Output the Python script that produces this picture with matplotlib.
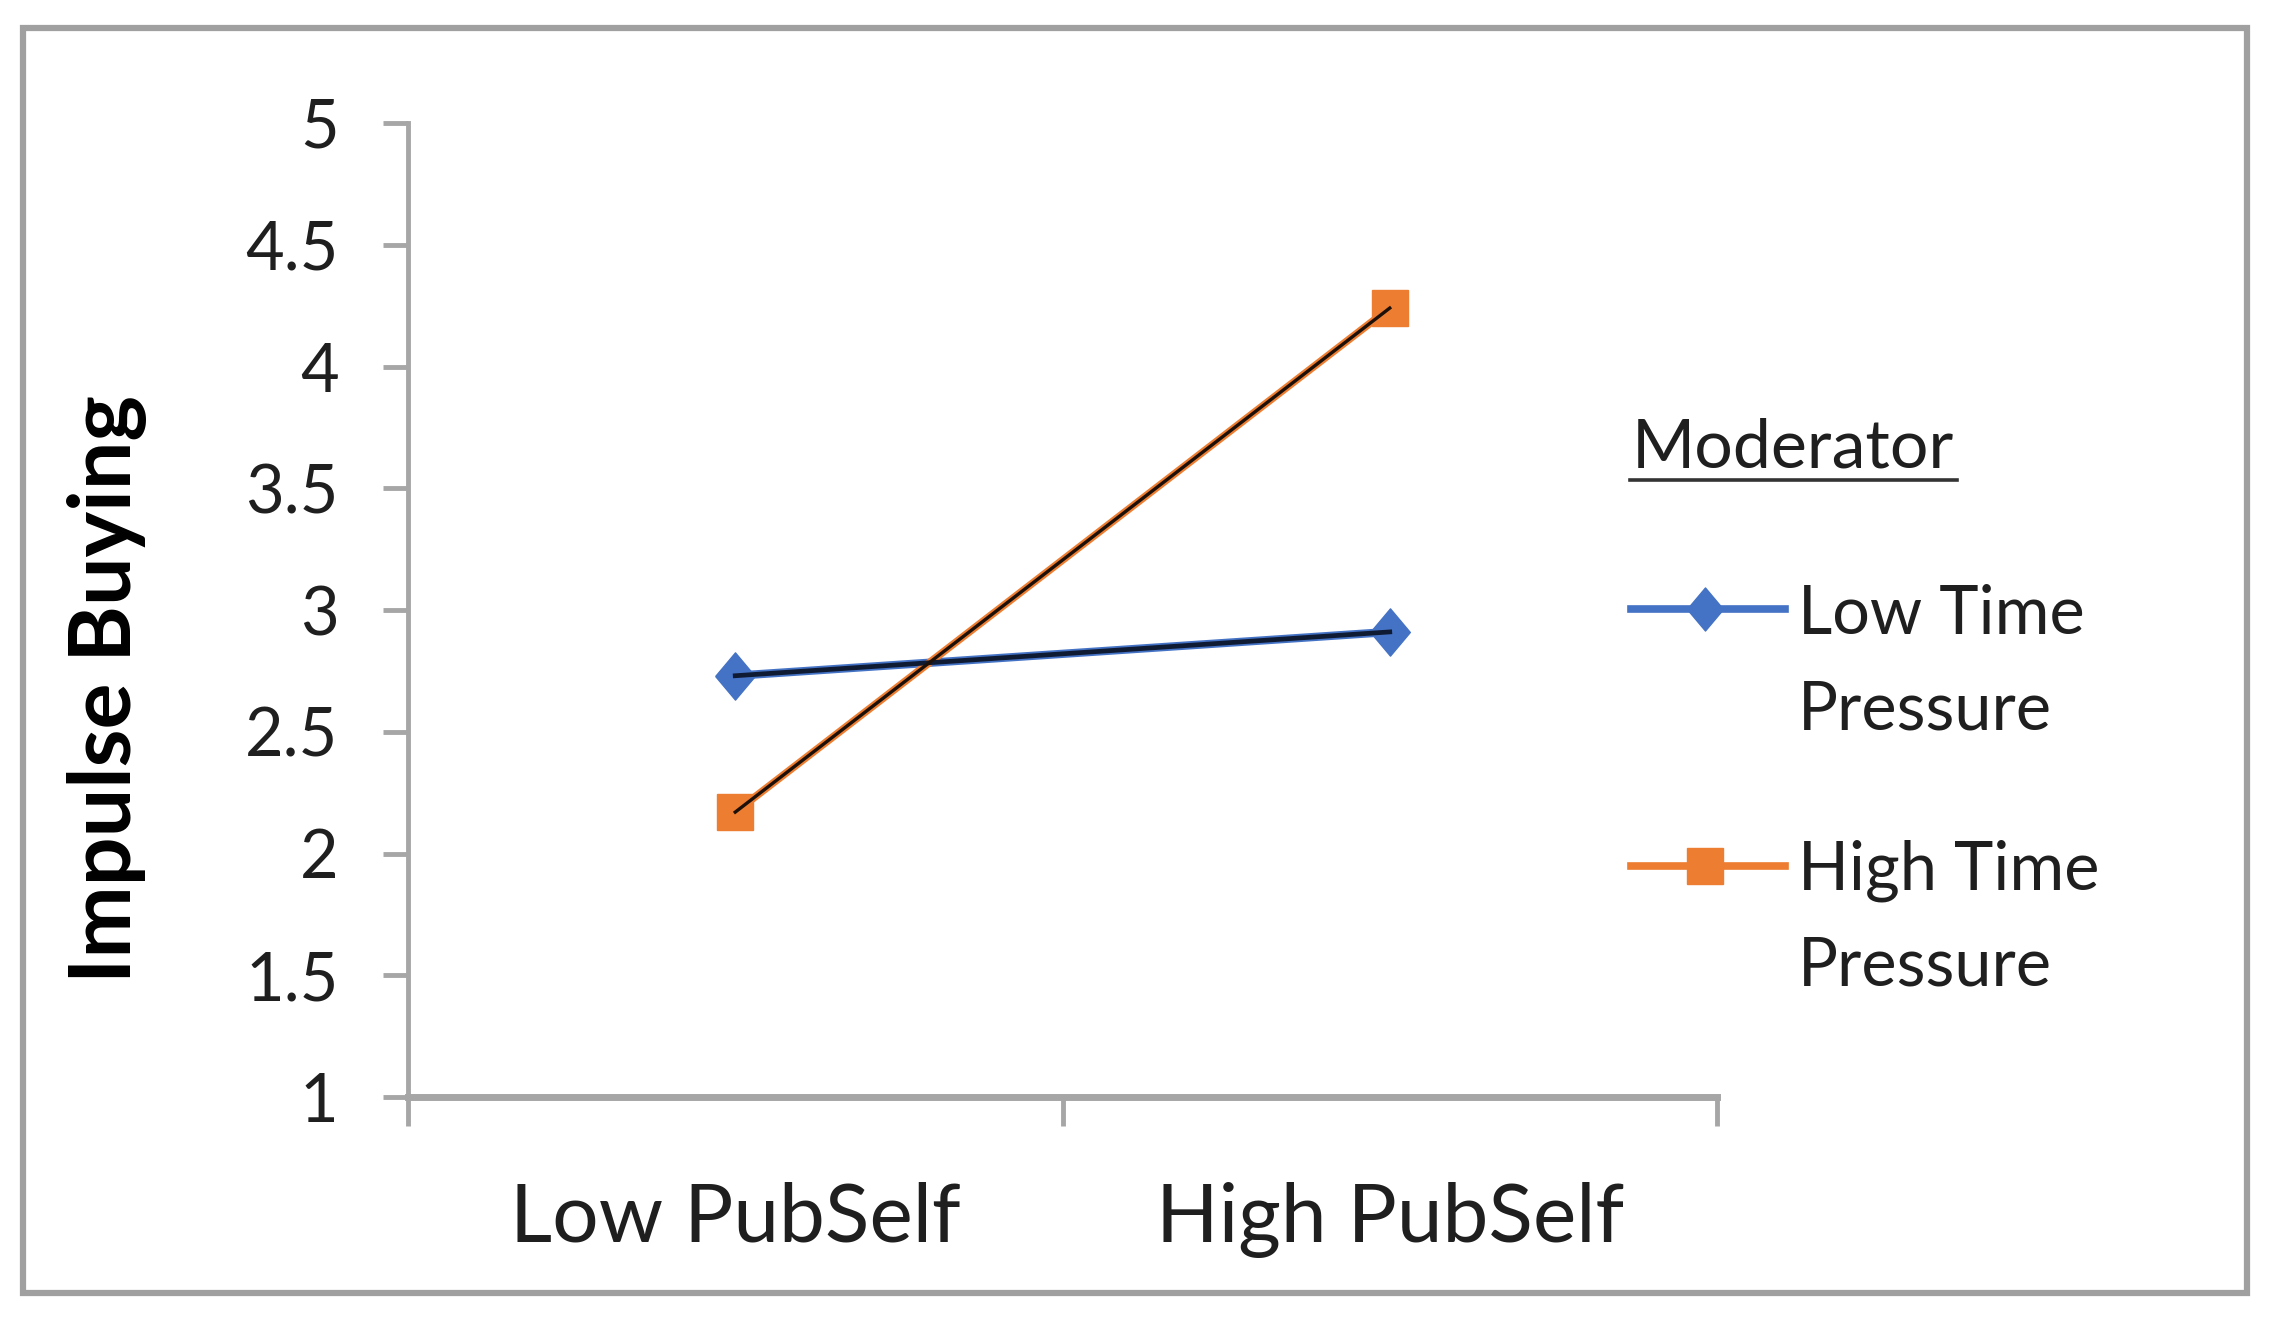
import matplotlib.pyplot as plt
from matplotlib.lines import Line2D
from matplotlib.patches import Rectangle

plt.rcParams['font.family'] = ['Lato', 'DejaVu Sans']

# data
groups = ['Low PubSelf', 'High PubSelf']
low_tp = [2.73, 2.91]
high_tp = [2.17, 4.24]
legend_title = 'Moderator'
legend_lines = [['Low Time', 'Pressure'], ['High Time', 'Pressure']]
y_ticks = [1, 1.5, 2, 2.5, 3, 3.5, 4, 4.5, 5]
y_ticklabels = ['1', '1.5', '2', '2.5', '3', '3.5', '4', '4.5', '5']

W, H = 2276, 1320
BLUE = '#4472C4'
ORANGE = '#ED7D31'
GRAY = '#a6a6a6'
TXT = '#1f1f1f'
# slightly slim diamond like the Excel marker
DIAMOND = [(-0.42, 0), (0, 0.5), (0.42, 0), (0, -0.5), (-0.42, 0)]


def fp(x, y):
    # pixel (from top-left) -> figure fraction
    return x / W, 1 - y / H


fig = plt.figure(figsize=(W / 100, H / 100), dpi=100)
ax = fig.add_axes([408 / W, 1 - 1097 / H, (1717 - 408) / W, (1097 - 123) / H])

xs = [0.5, 1.5]
ax.plot(xs, low_tp, color=BLUE, lw=6, marker=DIAMOND, ms=34, mec=BLUE, mew=1,
        mfc=BLUE, zorder=3)
ax.plot(xs, low_tp, color='#0f1a33', lw=3.4, zorder=4)
ax.plot(xs, high_tp, color=ORANGE, lw=5.5, marker='s', ms=26, mec=ORANGE, mew=1,
        mfc=ORANGE, zorder=3)
ax.plot(xs, high_tp, color='#1c1008', lw=2.4, zorder=4)

ax.set_xlim(0, 2)
ax.set_ylim(1, 5)
ax.set_yticks(y_ticks)
ax.set_yticklabels(y_ticklabels)
ax.set_xticks([0, 1, 2])
ax.set_xticklabels([])
ax.set_xticks(xs, minor=True)
ax.set_xticklabels(groups, minor=True)

for s in ['top', 'right']:
    ax.spines[s].set_visible(False)
ax.spines['left'].set_color(GRAY)
ax.spines['left'].set_linewidth(3.5)
ax.spines['bottom'].set_color(GRAY)
ax.spines['bottom'].set_linewidth(5)
ax.tick_params(axis='y', direction='out', length=18, width=3.5, color=GRAY,
               labelsize=48, labelcolor=TXT, pad=32)
ax.tick_params(axis='x', which='major', direction='out', length=21, width=3.5, color=GRAY)
ax.tick_params(axis='x', which='minor', length=0, labelsize=59, labelcolor=TXT, pad=61)

fig.text(*fp(107, 689), 'Impulse Buying', rotation=90, ha='center', va='center',
         fontsize=62, fontweight='bold', color='#000000')

# legend drawn by hand (title is underlined, labels wrap)
title = fig.text(*fp(1632, 468), legend_title, ha='left', va='baseline',
                 fontsize=49, color=TXT)
for (col, mk, ms), line_y, lab, base in zip(
        [(BLUE, DIAMOND, 31), (ORANGE, 's', 26)], [609, 866], legend_lines, [634, 890]):
    fig.add_artist(Line2D([1631 / W, 1785 / W], [1 - line_y / H] * 2,
                          color=col, lw=5.5))
    fig.add_artist(Line2D([1705 / W], [1 - line_y / H], marker=mk, ms=ms,
                          color=col, mec=col, lw=0))
    fig.text(*fp(1798, base), lab[0], ha='left', va='baseline', fontsize=48, color=TXT)
    fig.text(*fp(1798, base + 95), lab[1], ha='left', va='baseline', fontsize=48, color=TXT)

fig.canvas.draw()
bb = title.get_window_extent()
fig.add_artist(Line2D([bb.x0 / W - 0.001, bb.x1 / W + 0.001], [1 - 480 / H] * 2,
                      color='#333333', lw=2.6))

# outer frame
fig.add_artist(Rectangle(fp(23, 1293), (2247 - 23) / W, (1293 - 28) / H,
                         transform=fig.transFigure, fill=False, ec='#a0a0a0', lw=4.5))

fig.savefig('out.png', dpi=100)
